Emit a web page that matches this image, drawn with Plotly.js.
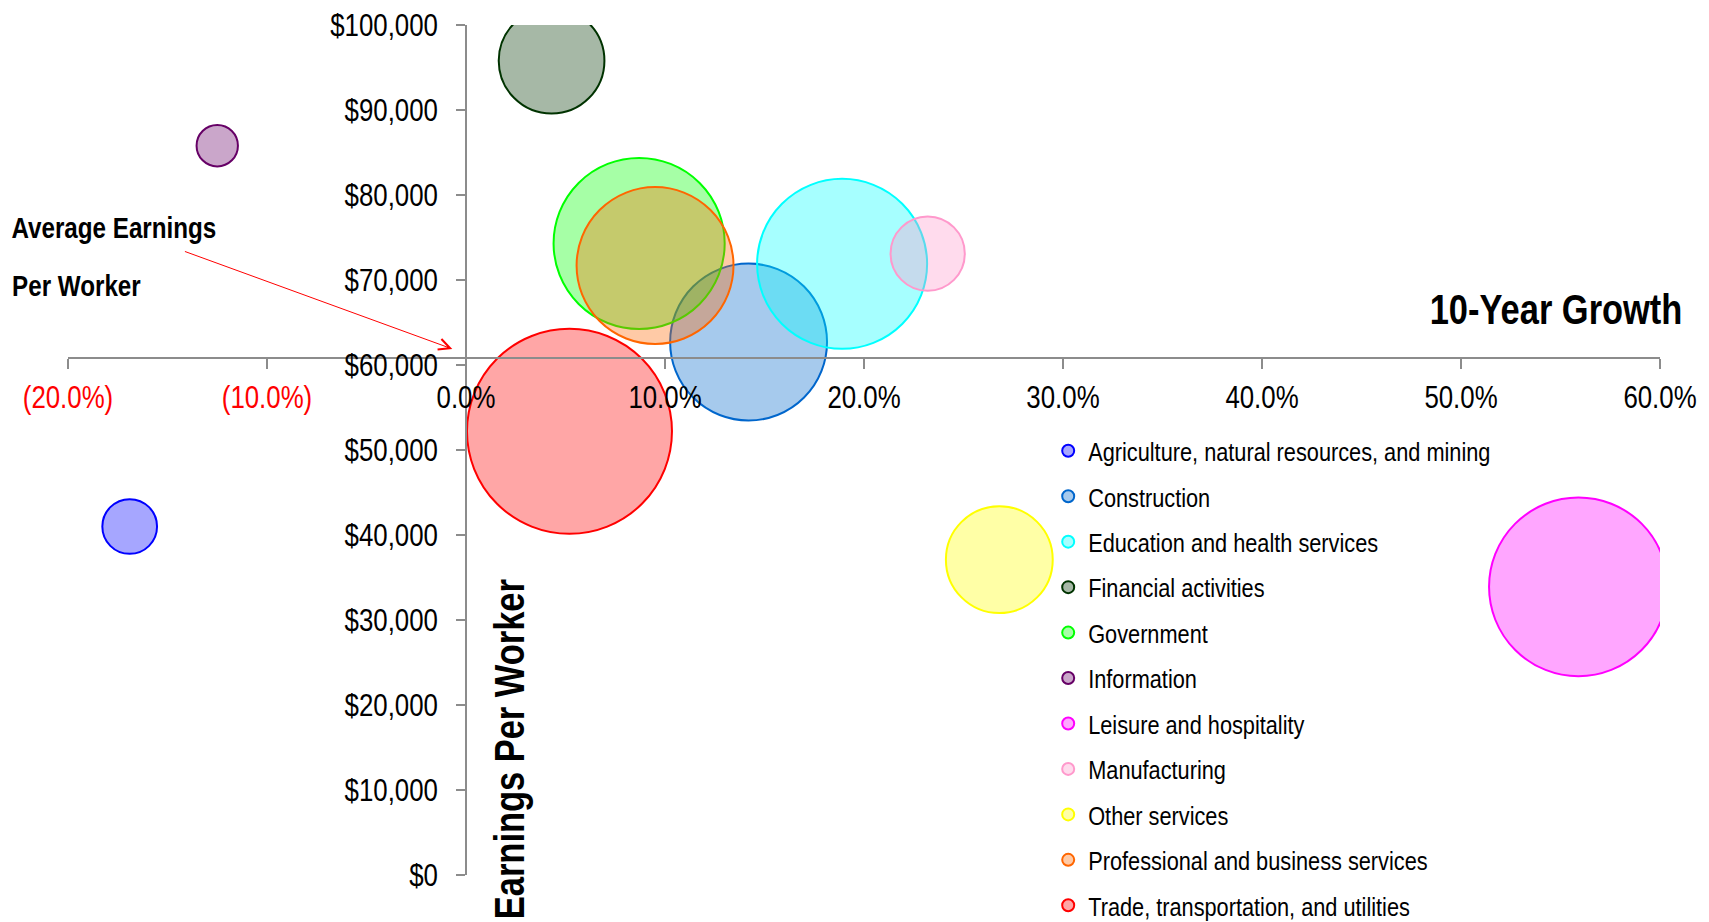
<!DOCTYPE html>
<html>
<head>
<meta charset="utf-8">
<script src="https://cdn.plot.ly/plotly-3.0.1.min.js"></script>
<style>
html,body{margin:0;padding:0;background:#fff;}
#chart{width:1709px;height:922px;}
</style>
</head>
<body>
<div id="chart"></div>
<script>
// ---- data ----
const industries = [
  "Agriculture, natural resources, and mining",
  "Construction",
  "Education and health services",
  "Financial activities",
  "Government",
  "Information",
  "Leisure and hospitality",
  "Manufacturing",
  "Other services",
  "Professional and business services",
  "Trade, transportation, and utilities"
];
// 10-year growth, in percent
const growthPct = [-16.9, 14.2, 18.9, 4.3, 8.7, -12.5, 55.9, 23.2, 26.8, 9.5, 5.2];
// average earnings per worker, dollars
const earnings = [41000, 62700, 71900, 95800, 74300, 85800, 33900, 73100, 37100, 71700, 52200];
// employment (bubble size)
const employment = [6300, 51800, 60800, 23500, 61600, 3600, 67200, 11600, 24000, 51800, 88400];

const xTickVals = [-20, -10, 0, 10, 20, 30, 40, 50, 60];
const xTickLabels = ["(20.0%)", "(10.0%)", "0.0%", "10.0%", "20.0%", "30.0%", "40.0%", "50.0%", "60.0%"];
const yTickVals = [0, 10000, 20000, 30000, 40000, 50000, 60000, 70000, 80000, 90000, 100000];
const yTickLabels = ["$0", "$10,000", "$20,000", "$30,000", "$40,000", "$50,000", "$60,000", "$70,000", "$80,000", "$90,000", "$100,000"];
const averageEarnings = 60800; // where the growth axis crosses

// ---- styles ----
const lineColors = ["#0000FF", "#0066CC", "#00FFFF", "#003300", "#00FF00", "#660066", "#FF00FF", "#FF99CC", "#FFFF00", "#FF6600", "#FF0000"];
const FILL_ALPHA = 0.35;
function hexToRgba(h, a) {
  const r = parseInt(h.slice(1, 3), 16), g = parseInt(h.slice(3, 5), 16), b = parseInt(h.slice(5, 7), 16);
  return `rgba(${r},${g},${b},${a})`;
}
const FONT = "'Liberation Sans', Arial, sans-serif";
const NARROW = 0.82; // Arial Narrow width relative to Arial
const AXIS_GRAY = "#8c8c8c";

const traces = industries.map((name, i) => ({
  type: "scatter",
  mode: "markers",
  name: name,
  legendgroup: "g" + i,
  x: [growthPct[i]],
  y: [earnings[i]],
  cliponaxis: true,
  hoverinfo: "name",
  marker: {
    size: [employment[i]],
    sizemode: "area",
    sizeref: 4.207,
    opacity: 1,
    color: hexToRgba(lineColors[i], FILL_ALPHA),
    line: { color: lineColors[i], width: 2 }
  }
}));

const xTickText = xTickLabels.map((t, i) =>
  xTickVals[i] < 0 ? `<span style="fill:#FF0000">${t}</span>` : t);

const layout = {
  width: 1709,
  height: 922,
  margin: { l: 68, r: 49, t: 25, b: 47, pad: 0, autoexpand: false },
  paper_bgcolor: "#ffffff",
  plot_bgcolor: "rgba(0,0,0,0)",
  font: { family: FONT, color: "#000000", size: 31.5 },
  showlegend: true,
  xaxis: {
    range: [-20, 60],
    tickmode: "array",
    tickvals: xTickVals,
    ticktext: xTickText,
    anchor: "free",
    position: averageEarnings / 100000,
    showline: true,
    linecolor: AXIS_GRAY,
    linewidth: 1.5,
    ticks: "outside",
    ticklen: 10,
    tickwidth: 1.5,
    tickcolor: AXIS_GRAY,
    showgrid: false,
    zeroline: false,
    tickfont: { family: FONT, size: 31.5, color: "#000000" },
    ticklabelstandoff: 1,
    fixedrange: true
  },
  yaxis: {
    range: [0, 100000],
    tickmode: "array",
    tickvals: yTickVals,
    ticktext: yTickLabels,
    anchor: "free",
    position: 0.25,
    showline: true,
    linecolor: AXIS_GRAY,
    linewidth: 1.5,
    ticks: "outside",
    ticklen: 9,
    tickwidth: 1.5,
    tickcolor: AXIS_GRAY,
    showgrid: false,
    zeroline: false,
    tickfont: { family: FONT, size: 31.5, color: "#000000" },
    ticklabelstandoff: 12,
    fixedrange: true
  },
  legend: {
    x: 0.6157,
    xanchor: "left",
    y: 0.527,
    yanchor: "top",
    bgcolor: "rgba(0,0,0,0)",
    font: { family: FONT, size: 26.5, color: "#000000" },
    itemsizing: "constant",
    tracegroupgap: 8,
    itemclick: false,
    itemdoubleclick: false
  },
  annotations: [
    {
      xref: "paper", yref: "paper", x: 0.9347, y: 0.6648, xanchor: "center", yanchor: "middle",
      text: "10-Year Growth", showarrow: false,
      font: { family: FONT, size: 42, weight: "bold", color: "#000000" }
    },
    {
      xref: "paper", yref: "paper", x: 0.0291, y: 0.7612, xanchor: "center", yanchor: "middle",
      text: "Average Earnings", showarrow: false,
      font: { family: FONT, size: 29.5, weight: "bold", color: "#000000" }
    },
    {
      xref: "paper", yref: "paper", x: 0.0051, y: 0.6936, xanchor: "center", yanchor: "middle",
      text: "Per Worker", showarrow: false,
      font: { family: FONT, size: 29.5, weight: "bold", color: "#000000" }
    },
    {
      xref: "paper", yref: "paper", x: 0.2772, y: 0.148, xanchor: "center", yanchor: "middle",
      text: "Earnings Per Worker", showarrow: false, textangle: -90,
      font: { family: FONT, size: 42, weight: "bold", color: "#000000" }
    },
    {
      xref: "paper", yref: "paper", x: 0.2414, y: 0.6189,
      axref: "paper", ayref: "paper", ax: 0.0725, ay: 0.7342,
      text: "", showarrow: true, arrowhead: 5, arrowsize: 2.2, arrowwidth: 1, arrowcolor: "#FF0000",
      standoff: 0, startstandoff: 0
    }
  ]
};

// Emulate a narrow (Arial Narrow-like) face: condense every drawn text horizontally.
function condenseText(gd) {
  gd.querySelectorAll("svg.main-svg text").forEach(t => {
    if (!t.textContent || t.getAttribute("data-condensed")) return;
    const len = t.getComputedTextLength();
    if (len > 0) {
      t.setAttribute("textLength", (len * NARROW).toFixed(2));
      t.setAttribute("lengthAdjust", "spacingAndGlyphs");
      t.setAttribute("data-condensed", "1");
    }
  });
}

Plotly.newPlot("chart", traces, layout, { displayModeBar: false, responsive: false })
  .then(gd => condenseText(gd));
</script>
</body>
</html>
